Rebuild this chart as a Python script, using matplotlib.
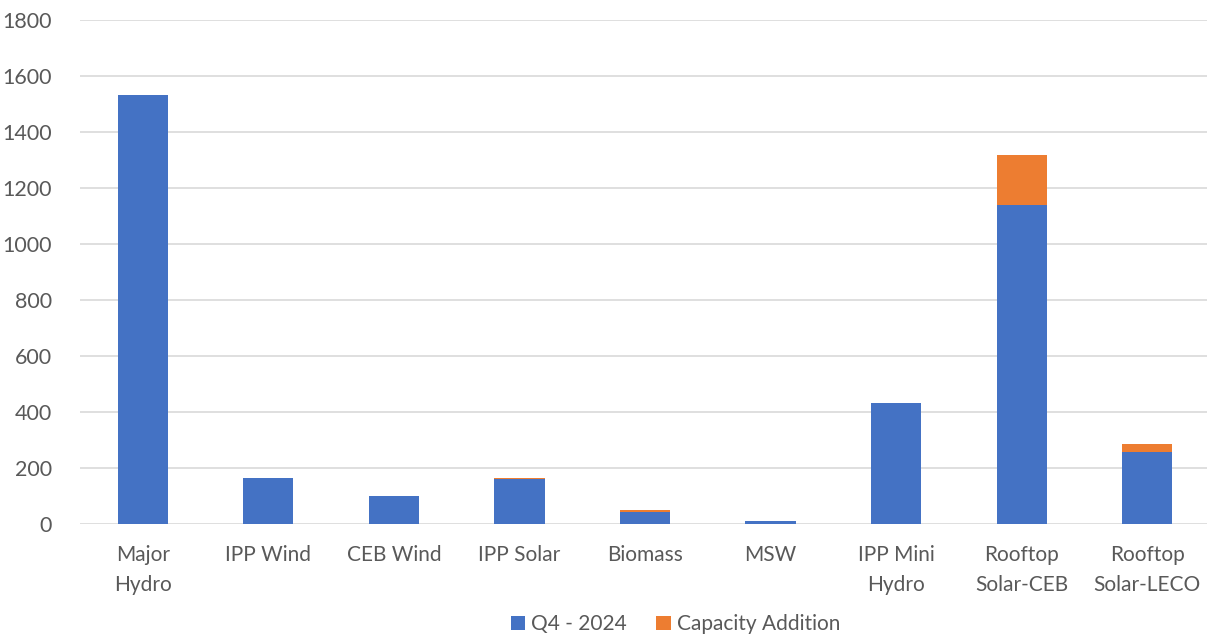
import matplotlib.pyplot as plt

# Dados
categorias = ['Major\nHydro', 'IPP Wind', 'CEB Wind', 'IPP Solar', 'Biomass', 'MSW',
              'IPP Mini\nHydro', 'Rooftop\nSolar-CEB', 'Rooftop\nSolar-LECO']
q4_2024 = [1530, 164, 100, 160, 43, 10, 432, 1140, 256]
adicao = [0, 0, 0, 5, 9, 0, 0, 176, 30]

plt.rcParams['font.family'] = ['Lato', 'DejaVu Sans']
cinza = '#595959'

fig = plt.figure(figsize=(12.07, 6.37), dpi=100)
ax = fig.add_axes([80 / 1207, 0.177, 1130 / 1207, 0.792])

x = range(len(categorias))
ax.bar(x, q4_2024, width=0.4, color='#4472C4', label='Q4 - 2024', zorder=3)
ax.bar(x, adicao, width=0.4, bottom=q4_2024, color='#ED7D31', label='Capacity Addition', zorder=3)

ax.set_xlim(-0.5, len(categorias) - 0.5)
ax.set_ylim(0, 1800)
ax.set_yticks(range(0, 1801, 200))
ax.set_xticks(list(x))
ax.set_xticklabels(categorias, fontsize=15, color=cinza, linespacing=1.6)
ax.tick_params(axis='y', labelsize=15.5, labelcolor=cinza, length=0, pad=20)
ax.tick_params(axis='x', length=0, pad=15)

ax.grid(axis='y', color='#d9d9d9', linewidth=1.2, zorder=0)
for s in ax.spines.values():
    s.set_visible(False)

ax.legend(loc='lower center', bbox_to_anchor=(0.527, -0.255), ncol=2, frameon=False,
          fontsize=15, labelcolor=cinza, handlelength=0.7, handleheight=0.7,
          handletextpad=0.3, columnspacing=1.4)

fig.savefig('out.png', dpi=100)
